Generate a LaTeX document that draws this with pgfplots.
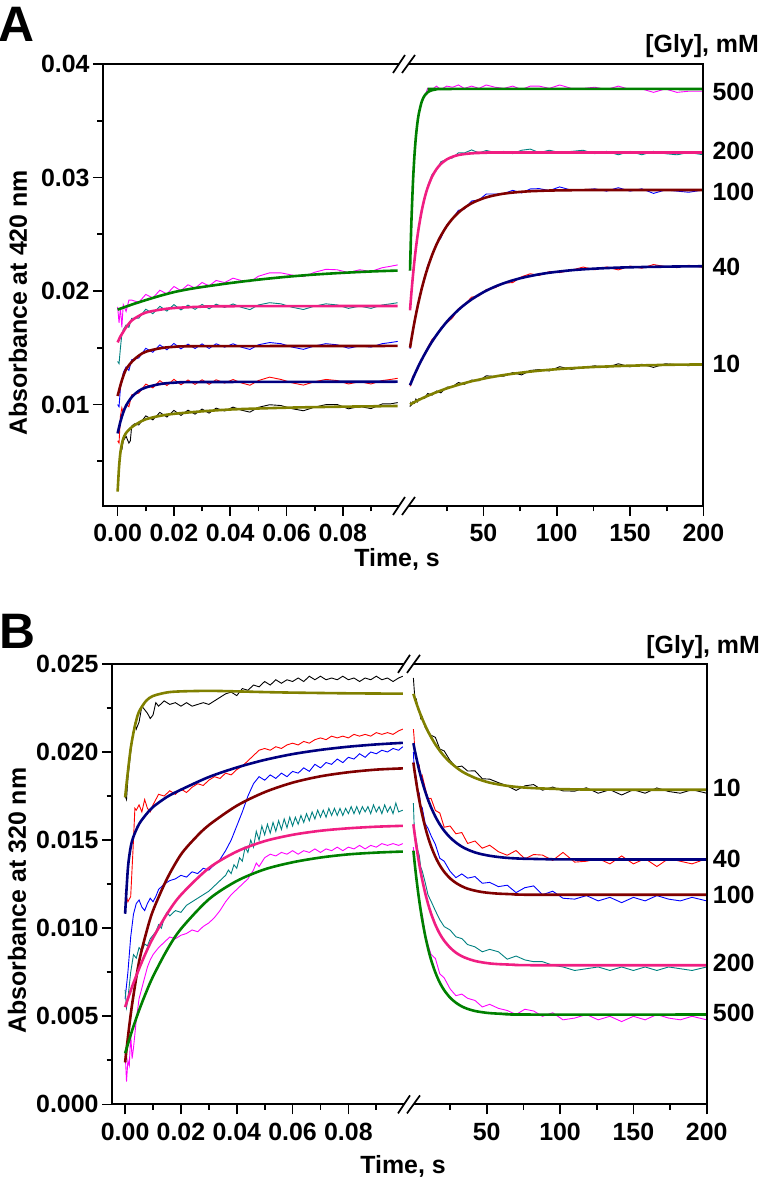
\documentclass[border=0pt]{standalone}
\usepackage{fontspec}
\setmainfont{Liberation Sans}
\usepackage{pgfplots}
\pgfplotsset{compat=1.18}
\definecolor{fgreen}{RGB}{0,128,0}
\definecolor{fpink}{RGB}{240,30,130}
\definecolor{fwine}{RGB}{128,0,0}
\definecolor{fnavy}{RGB}{0,0,128}
\definecolor{folive}{RGB}{128,128,0}
\definecolor{rmag}{RGB}{255,0,255}
\definecolor{rteal}{RGB}{0,128,128}
\definecolor{rblue}{RGB}{0,0,255}
\definecolor{rred}{RGB}{255,0,0}
\newcommand{\fnt}{\fontsize{25}{29}\selectfont\bfseries}
\pgfplotsset{
 base/.style={
  scale only axis, clip mode=individual,
  axis line style={draw=none},
  tick align=outside,
  major tick length=10bp, minor tick length=5.5bp,
  every tick/.append style={black, line width=1.7bp},
  xtick pos=left, ytick pos=left,
  scaled ticks=false,
  every tick label/.append style={font=\fnt},
  every x tick label/.append style={yshift=-5bp},
  /pgf/number format/assume math mode=true,
 },
 raw/.style={line width=0.9bp, no marks},
 fit/.style={line width=2.6bp, no marks, smooth},
}
\newcommand{\brk}[2]{%
 \fill[white] (#1bp-11bp,#2bp-9bp) -- (#1bp+1bp,#2bp+9bp) -- (#1bp+11bp,#2bp+9bp) -- (#1bp-2bp,#2bp-9bp) -- cycle;
 \draw[line width=1.7bp] (#1bp-11bp,#2bp-9bp) -- (#1bp+1bp,#2bp+9bp);
 \draw[line width=1.7bp] (#1bp-2bp,#2bp-9bp) -- (#1bp+11bp,#2bp+9bp);}
\begin{document}
\begin{tikzpicture}
\useasboundingbox (0bp,0bp) rectangle (760bp,1178bp);
% ================= PANEL A =================
\begin{axis}[base, name=AL, at={(103bp,672bp)}, anchor=south west,
 width=296.1bp, height=442bp,
 xmin=-0.0052, xmax=0.1, ymin=0.00106, ymax=0.04,
 xtick={0,0.02,0.04,0.06,0.08}, minor xtick={0.01,0.03,0.05,0.07,0.09},
 ytick={0.01,0.02,0.03,0.04}, minor ytick={0.005,0.015,0.025,0.035},
 xticklabel style={/pgf/number format/.cd,fixed,fixed zerofill,precision=2},
 yticklabel style={/pgf/number format/.cd,fixed,fixed zerofill,precision=2},
]
\addplot[raw, rmag] coordinates {(0,0.0186)(0.0005,0.0172)(0.001,0.0185)(0.0015,0.0168)(0.002,0.0188)(0.003,0.0182)(0.004,0.0192)(0.005,0.0192)(0.0075,0.0190)(0.010,0.0197)(0.0125,0.01938)(0.015,0.02007)(0.0175,0.01974)(0.020,0.0204)(0.0225,0.02003)(0.025,0.02055)(0.0275,0.02025)(0.030,0.02075)(0.0325,0.02045)(0.035,0.02093)(0.038,0.02074)(0.041,0.02113)(0.044,0.02092)(0.047,0.02081)(0.050,0.0213)(0.054,0.0216)(0.058,0.0216)(0.062,0.0214)(0.066,0.02127)(0.070,0.02165)(0.074,0.02191)(0.078,0.02187)(0.082,0.02162)(0.086,0.02187)(0.090,0.02172)(0.094,0.02205)(0.097,0.02218)(0.0995,0.0223)};
\addplot[raw, rteal] coordinates {(0,0.0138)(0.0005,0.0136)(0.001,0.0150)(0.0015,0.0162)(0.002,0.0166)(0.003,0.0170)(0.004,0.0168)(0.005,0.0176)(0.0075,0.0176)(0.010,0.0184)(0.0125,0.0180)(0.015,0.01865)(0.0175,0.01823)(0.020,0.0188)(0.0225,0.01833)(0.025,0.01876)(0.0275,0.01838)(0.030,0.01882)(0.0325,0.01843)(0.035,0.01884)(0.038,0.01855)(0.041,0.01886)(0.044,0.01856)(0.047,0.01836)(0.050,0.01877)(0.054,0.01897)(0.058,0.01887)(0.062,0.01857)(0.066,0.01837)(0.070,0.01867)(0.074,0.01887)(0.078,0.01877)(0.082,0.01847)(0.086,0.01867)(0.090,0.01847)(0.094,0.01877)(0.097,0.01887)(0.0995,0.01897)};
\addplot[raw, rblue] coordinates {(0,0.0100)(0.0005,0.0098)(0.001,0.0115)(0.002,0.0128)(0.003,0.0133)(0.004,0.0130)(0.005,0.01395)(0.0075,0.0141)(0.010,0.01495)(0.0125,0.0146)(0.015,0.01525)(0.0175,0.01482)(0.020,0.01538)(0.0225,0.0149)(0.025,0.01532)(0.0275,0.01493)(0.030,0.01534)(0.0325,0.01494)(0.035,0.01535)(0.038,0.01505)(0.041,0.01535)(0.044,0.01505)(0.047,0.01485)(0.050,0.01526)(0.054,0.01546)(0.058,0.01536)(0.062,0.01506)(0.066,0.01486)(0.070,0.01516)(0.074,0.01536)(0.078,0.01526)(0.082,0.01496)(0.086,0.01516)(0.090,0.01506)(0.094,0.01536)(0.097,0.01546)(0.0995,0.01556)};
\addplot[raw, rred] coordinates {(0,0.0068)(0.0005,0.0066)(0.001,0.0090)(0.0015,0.0097)(0.002,0.0092)(0.003,0.0100)(0.004,0.0098)(0.005,0.01085)(0.0075,0.0110)(0.010,0.0118)(0.0125,0.01147)(0.015,0.0121)(0.0175,0.01167)(0.020,0.01222)(0.0225,0.01174)(0.025,0.01216)(0.0275,0.01177)(0.030,0.01218)(0.0325,0.01178)(0.035,0.01218)(0.038,0.01189)(0.041,0.0122)(0.044,0.0119)(0.047,0.0117)(0.050,0.01211)(0.054,0.01241)(0.058,0.01221)(0.062,0.01191)(0.066,0.01171)(0.070,0.01201)(0.074,0.01221)(0.078,0.01211)(0.082,0.01181)(0.086,0.01201)(0.090,0.01181)(0.094,0.01211)(0.097,0.01221)(0.0995,0.01231)};
\addplot[raw, black] coordinates {(0.0015,0.0060)(0.002,0.0068)(0.003,0.0072)(0.004,0.0066)(0.0045,0.0068)(0.005,0.0081)(0.006,0.0083)(0.0075,0.0082)(0.010,0.0090)(0.0125,0.00865)(0.015,0.0093)(0.0175,0.0089)(0.020,0.00948)(0.0225,0.00904)(0.025,0.0095)(0.0275,0.00915)(0.030,0.0096)(0.0325,0.00924)(0.035,0.00968)(0.038,0.00943)(0.041,0.00977)(0.044,0.0095)(0.047,0.00933)(0.050,0.00975)(0.054,0.00998)(0.058,0.00991)(0.062,0.00963)(0.066,0.00945)(0.070,0.00977)(0.074,0.00999)(0.078,0.0100)(0.082,0.00962)(0.086,0.00983)(0.090,0.00964)(0.094,0.01005)(0.097,0.01006)(0.0995,0.01017)};
\addplot[fit, fgreen] coordinates {(0,0.01836)(0.005,0.0188)(0.01,0.0192)(0.015,0.01957)(0.02,0.0199)(0.025,0.02015)(0.03,0.02035)(0.04,0.0207)(0.05,0.0210)(0.06,0.02125)(0.07,0.02145)(0.08,0.0216)(0.09,0.02172)(0.0995,0.0218)};
\addplot[fit, fpink] coordinates {(0,0.01547)(0.001,0.0160)(0.002,0.0164)(0.003,0.0168)(0.005,0.0174)(0.0075,0.0178)(0.01,0.0181)(0.015,0.01835)(0.02,0.0185)(0.03,0.01862)(0.04,0.01866)(0.0995,0.01868)};
\addplot[fit, fwine] coordinates {(0,0.01075)(0.001,0.0117)(0.002,0.0125)(0.003,0.0131)(0.005,0.01375)(0.0075,0.0143)(0.01,0.01465)(0.015,0.01495)(0.02,0.01508)(0.03,0.01514)(0.0995,0.01516)};
\addplot[fit, fnavy] coordinates {(0,0.00745)(0.001,0.0085)(0.002,0.0093)(0.003,0.0099)(0.005,0.01065)(0.0075,0.0112)(0.01,0.0115)(0.015,0.0118)(0.02,0.01192)(0.03,0.01198)(0.0995,0.01201)};
\addplot[fit, folive] coordinates {(0,0.00233)(0.0005,0.0045)(0.001,0.0058)(0.0015,0.0065)(0.002,0.0070)(0.003,0.0075)(0.005,0.0080)(0.0075,0.0084)(0.01,0.0087)(0.015,0.0090)(0.02,0.00918)(0.03,0.0094)(0.04,0.00956)(0.05,0.00965)(0.06,0.00972)(0.07,0.00977)(0.08,0.00981)(0.09,0.00984)(0.0995,0.00987)};
\end{axis}
\begin{axis}[base, name=AR, at={(399.1bp,672bp)}, anchor=south west,
 width=304.3bp, height=442bp,
 xmin=-7.45, xmax=200, ymin=0.00106, ymax=0.04,
 xtick={50,100,150,200}, minor xtick={25,75,125,175},
 ytick=\empty,
]
\addplot[raw, rmag] coordinates {(0,0.0218)(0.5,0.02436)(1,0.02624)(2,0.0297)(3,0.0318)(4,0.0338)(5,0.03468)(6,0.03573)(8,0.03669)(10,0.03713)(12,0.03786)(15,0.03774)(18,0.03805)(21,0.03775)(25,0.03805)(29,0.03795)(33,0.03815)(37,0.03785)(42,0.03805)(47,0.03785)(52,0.03815)(58,0.03795)(64,0.03785)(70,0.03805)(76,0.03775)(82,0.03805)(88,0.03805)(95,0.03785)(102,0.03815)(110,0.03785)(118,0.03785)(126,0.03795)(134,0.03775)(142,0.03805)(150,0.03775)(158,0.0378)(166,0.0375)(174,0.0378)(182,0.0375)(190,0.0376)(200,0.0376)};
\addplot[raw, rteal] coordinates {(0,0.0184)(0.5,0.01904)(1,0.01993)(2,0.02157)(3,0.02255)(4,0.02387)(5,0.02456)(6,0.02573)(8,0.02699)(10,0.02822)(12,0.0292)(15,0.03027)(18,0.03063)(21,0.03139)(25,0.03159)(29,0.03173)(33,0.03218)(37,0.03216)(42,0.03243)(47,0.03216)(52,0.03238)(58,0.0322)(64,0.0323)(70,0.0321)(76,0.0324)(82,0.0325)(88,0.0322)(95,0.0324)(102,0.0322)(110,0.0323)(118,0.0324)(126,0.0321)(134,0.0323)(142,0.0320)(150,0.0323)(158,0.0320)(166,0.0323)(174,0.0321)(182,0.0320)(190,0.0322)(200,0.0320)};
\addplot[raw, rblue] coordinates {(0,0.0149)(0.5,0.0155)(1,0.01569)(2,0.01664)(3,0.01715)(4,0.01811)(5,0.01844)(6,0.01923)(8,0.02022)(10,0.02108)(12,0.02224)(15,0.02305)(18,0.02418)(21,0.02466)(25,0.02581)(29,0.02638)(33,0.02711)(37,0.02722)(42,0.02793)(47,0.02802)(52,0.02855)(58,0.02854)(64,0.02858)(70,0.02887)(76,0.02864)(82,0.02899)(88,0.02902)(95,0.02885)(102,0.02917)(110,0.02888)(118,0.0289)(126,0.0290)(134,0.0288)(142,0.0291)(150,0.0288)(158,0.0290)(166,0.0286)(174,0.0289)(182,0.0288)(190,0.0287)(200,0.0289)};
\addplot[raw, rred] coordinates {(0,0.0116)(0.5,0.01176)(1,0.01201)(2,0.01252)(3,0.0125)(4,0.0130)(5,0.01298)(6,0.01355)(8,0.01386)(10,0.01444)(12,0.0150)(15,0.01574)(18,0.01601)(21,0.01674)(25,0.01718)(29,0.01764)(33,0.01844)(37,0.01878)(42,0.01946)(47,0.01957)(52,0.02013)(58,0.02029)(64,0.02069)(70,0.02074)(76,0.02125)(82,0.02152)(88,0.02137)(95,0.02171)(102,0.02162)(110,0.02183)(118,0.02211)(126,0.02187)(134,0.02212)(142,0.02186)(150,0.02219)(158,0.02201)(166,0.02233)(174,0.02215)(182,0.02206)(190,0.02227)(200,0.02208)};
\addplot[raw, black] coordinates {(0,0.0098)(0.5,0.01014)(1,0.00997)(2,0.01024)(3,0.01011)(4,0.01048)(5,0.01024)(6,0.01051)(8,0.01053)(10,0.01055)(12,0.01097)(15,0.01083)(18,0.01119)(21,0.01103)(25,0.01152)(29,0.01158)(33,0.01194)(37,0.01178)(42,0.01215)(47,0.01209)(52,0.01253)(58,0.01247)(64,0.0125)(70,0.01281)(76,0.01261)(82,0.0130)(88,0.01308)(95,0.01296)(102,0.01333)(110,0.0131)(118,0.01326)(126,0.01341)(134,0.01325)(142,0.01359)(150,0.01332)(158,0.01355)(166,0.01327)(174,0.01359)(182,0.01351)(190,0.01342)(200,0.01363)};
\addplot[fit, fgreen] coordinates {(0,0.0218)(0.5,0.02426)(1,0.02634)(2,0.02959)(3,0.03191)(4,0.03358)(5,0.03478)(6,0.03563)(8,0.03669)(10,0.03723)(12,0.03751)(15,0.03769)(18,0.03777)(25,0.0378)(200,0.0378)};
\addplot[fit, fpink] coordinates {(0,0.0183)(0.5,0.01914)(1,0.01993)(2,0.02137)(3,0.02265)(4,0.02377)(5,0.02476)(6,0.02563)(8,0.02709)(10,0.02822)(12,0.0291)(15,0.03007)(18,0.03073)(21,0.03119)(25,0.03159)(29,0.03183)(33,0.03198)(37,0.03206)(42,0.03213)(47,0.03216)(52,0.03218)(60,0.0322)(200,0.0322)};
\addplot[fit, fwine] coordinates {(0,0.0150)(1,0.01579)(2,0.01654)(3,0.01725)(4,0.01791)(5,0.01854)(6,0.01913)(8,0.02022)(10,0.02118)(12,0.02204)(15,0.02315)(18,0.02408)(21,0.02486)(25,0.02571)(29,0.02638)(33,0.02691)(37,0.02732)(42,0.02773)(47,0.02802)(52,0.02825)(58,0.02844)(64,0.02858)(70,0.02867)(76,0.02874)(82,0.02879)(88,0.02882)(95,0.02885)(110,0.02888)(130,0.0289)(200,0.0289)};
\addplot[fit, fnavy] coordinates {(0,0.0117)(1,0.01201)(2,0.01232)(4,0.0129)(6,0.01345)(8,0.01396)(10,0.01444)(12,0.0149)(15,0.01554)(18,0.01611)(21,0.01664)(25,0.01728)(29,0.01784)(33,0.01834)(37,0.01878)(42,0.01926)(47,0.01967)(52,0.02003)(58,0.02039)(64,0.02069)(70,0.02094)(76,0.02115)(82,0.02132)(88,0.02147)(95,0.02161)(102,0.02172)(110,0.02183)(118,0.02191)(126,0.02197)(134,0.02202)(142,0.02206)(150,0.02209)(166,0.02213)(182,0.02216)(200,0.02218)};
\addplot[fit, folive] coordinates {(0,0.0100)(5,0.01034)(10,0.01065)(15,0.01093)(21,0.01123)(25,0.01142)(29,0.01158)(33,0.01174)(37,0.01188)(42,0.01205)(47,0.01219)(52,0.01233)(58,0.01247)(64,0.0126)(70,0.01271)(76,0.01281)(82,0.0129)(88,0.01298)(95,0.01306)(102,0.01313)(110,0.0132)(118,0.01326)(126,0.01331)(134,0.01335)(142,0.01339)(150,0.01342)(166,0.01347)(182,0.01351)(200,0.01353)};
\node[anchor=west, inner sep=0, xshift=9bp, font=\fnt] at (axis cs:200,0.0375) {500};
\node[anchor=west, inner sep=0, xshift=9bp, font=\fnt] at (axis cs:200,0.0323) {200};
\node[anchor=west, inner sep=0, xshift=9bp, font=\fnt] at (axis cs:200,0.0287) {100};
\node[anchor=west, inner sep=0, xshift=9bp, font=\fnt] at (axis cs:200,0.0221) {40};
\node[anchor=west, inner sep=0, xshift=9bp, font=\fnt] at (axis cs:200,0.0136) {10};
\end{axis}
\draw[line width=2bp, line join=miter] (AL.north east) -- (AL.north west) -- (AL.south west) -- (AL.south east);
\draw[line width=2bp, line join=miter] (AR.north west) -- (AR.north east) -- (AR.south east) -- (AR.south west);
\brk{404}{1114}
\brk{404}{672}
\node[anchor=base west, inner sep=0, font=\fontsize{50}{54}\selectfont\bfseries] at (-2bp,1136bp) {A};
\node[anchor=base east, inner sep=0, font=\fnt] at (759bp,1125bp) {[Gly], mM};
\node[anchor=base, inner sep=0, font=\fnt] at (397bp,611bp) {Time, s};
\node[rotate=90, inner sep=0, font=\fnt] at (18bp,875bp) {Absorbance at 420 nm};
% ================= PANEL B =================
\begin{axis}[base, name=BL, at={(112bp,73.6bp)}, anchor=south west,
 width=292.2bp, height=440.5bp,
 xmin=-0.0047, xmax=0.1, ymin=0, ymax=0.025,
 xtick={0,0.02,0.04,0.06,0.08}, minor xtick={0.01,0.03,0.05,0.07,0.09},
 ytick={0,0.005,0.01,0.015,0.02,0.025}, minor ytick={0.0025,0.0075,0.0125,0.0175,0.0225},
 xticklabel style={/pgf/number format/.cd,fixed,fixed zerofill,precision=2},
 yticklabel style={/pgf/number format/.cd,fixed,fixed zerofill,precision=3},
]
\addplot[raw, black] coordinates {(0,0.0175)(0.0005,0.0173)(0.001,0.0185)(0.002,0.0200)(0.003,0.0212)(0.0035,0.0216)(0.004,0.0213)(0.005,0.0217)(0.006,0.0226)(0.007,0.0224)(0.008,0.0222)(0.009,0.0219)(0.010,0.0221)(0.011,0.0228)(0.012,0.0226)(0.014,0.0229)(0.016,0.0227)(0.018,0.0228)(0.020,0.0226)(0.022,0.0228)(0.024,0.0226)(0.026,0.0227)(0.028,0.0228)(0.030,0.0227)(0.032,0.0229)(0.034,0.0231)(0.036,0.0233)(0.038,0.0234)(0.040,0.0232)(0.042,0.0236)(0.044,0.0235)(0.046,0.0238)(0.048,0.0237)(0.050,0.0240)(0.052,0.0238)(0.054,0.0241)(0.056,0.0239)(0.058,0.0241)(0.060,0.0240)(0.062,0.0242)(0.064,0.0240)(0.066,0.0243)(0.068,0.0241)(0.070,0.0243)(0.072,0.0241)(0.074,0.0242)(0.076,0.0241)(0.078,0.0243)(0.080,0.0241)(0.082,0.0242)(0.084,0.0240)(0.086,0.0242)(0.088,0.0241)(0.090,0.0243)(0.092,0.0241)(0.094,0.0242)(0.096,0.0240)(0.098,0.0242)(0.0995,0.0243)};
\addplot[raw, rred] coordinates {(0,0.0120)(0.001,0.0115)(0.002,0.0118)(0.003,0.0150)(0.0035,0.0168)(0.004,0.0167)(0.005,0.0170)(0.006,0.0166)(0.007,0.0173)(0.008,0.0168)(0.009,0.0166)(0.010,0.0170)(0.011,0.0173)(0.012,0.0176)(0.014,0.0175)(0.016,0.0178)(0.018,0.0176)(0.020,0.0179)(0.022,0.0177)(0.024,0.0180)(0.026,0.0182)(0.028,0.0181)(0.030,0.0184)(0.032,0.0186)(0.034,0.0185)(0.036,0.0188)(0.038,0.0187)(0.040,0.0190)(0.042,0.0192)(0.044,0.0195)(0.046,0.0198)(0.048,0.0201)(0.050,0.0202)(0.052,0.0201)(0.054,0.0203)(0.056,0.0202)(0.058,0.0204)(0.060,0.0205)(0.062,0.0204)(0.064,0.0206)(0.066,0.0205)(0.068,0.0207)(0.070,0.0208)(0.072,0.0207)(0.074,0.0209)(0.076,0.0208)(0.078,0.0209)(0.080,0.0208)(0.082,0.0210)(0.084,0.0209)(0.086,0.0210)(0.088,0.0209)(0.090,0.0211)(0.092,0.0210)(0.094,0.0211)(0.096,0.0210)(0.098,0.0212)(0.0995,0.0213)};
\addplot[raw, rblue] coordinates {(0,0.0060)(0.001,0.0075)(0.002,0.0095)(0.003,0.0108)(0.004,0.0114)(0.005,0.0116)(0.006,0.0112)(0.007,0.0110)(0.008,0.0114)(0.009,0.0117)(0.010,0.0115)(0.011,0.0118)(0.012,0.0122)(0.014,0.0125)(0.016,0.0127)(0.018,0.0128)(0.020,0.0130)(0.022,0.0129)(0.024,0.0132)(0.026,0.0131)(0.028,0.0134)(0.030,0.0133)(0.032,0.0136)(0.034,0.0139)(0.036,0.0144)(0.038,0.0150)(0.040,0.0158)(0.042,0.0166)(0.044,0.0175)(0.046,0.0182)(0.048,0.0186)(0.050,0.0184)(0.052,0.0187)(0.054,0.0185)(0.056,0.0188)(0.058,0.0186)(0.060,0.0189)(0.062,0.0188)(0.064,0.0191)(0.066,0.0189)(0.068,0.0193)(0.070,0.0191)(0.072,0.0194)(0.074,0.0193)(0.076,0.0196)(0.078,0.0194)(0.080,0.0197)(0.082,0.0196)(0.084,0.0199)(0.086,0.0197)(0.088,0.0200)(0.090,0.0199)(0.092,0.0201)(0.094,0.0200)(0.096,0.0202)(0.098,0.0201)(0.0995,0.0203)};
\addplot[raw, rteal] coordinates {(0,0.0065)(0.0005,0.0055)(0.001,0.0060)(0.002,0.0075)(0.003,0.0085)(0.004,0.0083)(0.005,0.0089)(0.006,0.0087)(0.007,0.0091)(0.008,0.0090)(0.009,0.0094)(0.010,0.0096)(0.011,0.0098)(0.012,0.0102)(0.013,0.0100)(0.014,0.0106)(0.015,0.0109)(0.016,0.0107)(0.018,0.0110)(0.020,0.0109)(0.022,0.0113)(0.024,0.0115)(0.026,0.0117)(0.028,0.0119)(0.030,0.0121)(0.032,0.0124)(0.034,0.0127)(0.036,0.0130)(0.037,0.0133)(0.038,0.0131)(0.039,0.0136)(0.040,0.0134)(0.041,0.0140)(0.042,0.0138)(0.043,0.0146)(0.044,0.0143)(0.045,0.0150)(0.046,0.0146)(0.047,0.0155)(0.048,0.0150)(0.049,0.0158)(0.050,0.0153)(0.051,0.0159)(0.052,0.0154)(0.053,0.0160)(0.054,0.0155)(0.055,0.0161)(0.056,0.0156)(0.057,0.0162)(0.058,0.0157)(0.059,0.0163)(0.060,0.0158)(0.061,0.0163)(0.062,0.0159)(0.063,0.0164)(0.064,0.0160)(0.065,0.0165)(0.066,0.0161)(0.067,0.0166)(0.068,0.0162)(0.069,0.0167)(0.070,0.0163)(0.071,0.0167)(0.072,0.0163)(0.073,0.0168)(0.074,0.0164)(0.075,0.0168)(0.076,0.0164)(0.077,0.0168)(0.078,0.0164)(0.079,0.0168)(0.080,0.0165)(0.081,0.0169)(0.082,0.0165)(0.083,0.0169)(0.084,0.0165)(0.085,0.0169)(0.086,0.0166)(0.087,0.0169)(0.088,0.0165)(0.089,0.0170)(0.090,0.0166)(0.091,0.0169)(0.092,0.0165)(0.093,0.0170)(0.094,0.0166)(0.095,0.0169)(0.096,0.0165)(0.097,0.0171)(0.098,0.0166)(0.0995,0.0167)};
\addplot[raw, rmag] coordinates {(0,0.0030)(0.0005,0.0013)(0.001,0.0025)(0.0015,0.0022)(0.002,0.0040)(0.0025,0.0026)(0.003,0.0032)(0.004,0.0048)(0.005,0.0060)(0.006,0.0066)(0.007,0.0072)(0.008,0.0078)(0.009,0.0082)(0.010,0.0085)(0.012,0.0089)(0.014,0.0092)(0.016,0.0095)(0.018,0.0094)(0.020,0.0096)(0.022,0.0097)(0.024,0.0099)(0.026,0.0098)(0.028,0.0101)(0.030,0.0103)(0.032,0.0106)(0.034,0.0110)(0.036,0.0115)(0.038,0.0119)(0.040,0.0122)(0.042,0.0125)(0.044,0.0128)(0.046,0.0133)(0.047,0.0137)(0.048,0.0135)(0.050,0.0140)(0.052,0.0142)(0.054,0.0141)(0.056,0.0143)(0.058,0.0142)(0.060,0.0144)(0.062,0.0142)(0.064,0.0144)(0.066,0.0143)(0.068,0.0145)(0.070,0.0143)(0.072,0.0145)(0.074,0.0144)(0.076,0.0146)(0.078,0.0144)(0.080,0.0146)(0.082,0.0145)(0.084,0.0147)(0.086,0.0145)(0.088,0.0147)(0.090,0.0146)(0.092,0.0148)(0.094,0.0147)(0.096,0.0148)(0.098,0.0147)(0.0995,0.0148)};
\addplot[fit, folive] coordinates {(0,0.01742)(0.001,0.0189)(0.002,0.0202)(0.003,0.0211)(0.004,0.0218)(0.005,0.0223)(0.0075,0.0229)(0.01,0.02318)(0.015,0.02338)(0.02,0.02344)(0.03,0.02347)(0.04,0.02344)(0.05,0.0234)(0.06,0.02337)(0.08,0.02333)(0.0995,0.02331)};
\addplot[fit, fnavy] coordinates {(0,0.01082)(0.001,0.0134)(0.002,0.01461)(0.003,0.0152)(0.005,0.01591)(0.0075,0.01645)(0.01,0.01688)(0.015,0.01745)(0.02,0.01786)(0.03,0.01858)(0.04,0.01912)(0.05,0.01955)(0.06,0.01988)(0.07,0.02012)(0.08,0.0203)(0.09,0.02043)(0.0995,0.02052)};
\addplot[fit, fwine] coordinates {(0,0.00238)(0.001,0.0038)(0.002,0.0051)(0.003,0.0062)(0.005,0.0081)(0.0075,0.0097)(0.01,0.0110)(0.015,0.0128)(0.02,0.01418)(0.025,0.0151)(0.03,0.01585)(0.04,0.01695)(0.05,0.01772)(0.06,0.01826)(0.07,0.01862)(0.08,0.01885)(0.09,0.019)(0.0995,0.01907)};
\addplot[fit, fpink] coordinates {(0,0.00552)(0.0025,0.00668)(0.005,0.0077)(0.0075,0.00863)(0.01,0.00945)(0.015,0.01081)(0.02,0.01189)(0.03,0.01341)(0.04,0.01435)(0.05,0.01494)(0.06,0.0153)(0.07,0.01553)(0.08,0.01567)(0.09,0.01576)(0.0995,0.01581)};
\addplot[fit, fgreen] coordinates {(0,0.0029)(0.0025,0.00419)(0.005,0.00534)(0.0075,0.00635)(0.01,0.00726)(0.015,0.00876)(0.02,0.00996)(0.03,0.01164)(0.04,0.01268)(0.05,0.01334)(0.06,0.01374)(0.07,0.01401)(0.08,0.01419)(0.09,0.01429)(0.0995,0.01435)};
\end{axis}
\begin{axis}[base, name=BR, at={(404.2bp,73.6bp)}, anchor=south west,
 width=302.5bp, height=440.5bp,
 xmin=-6.27, xmax=200, ymin=0, ymax=0.025,
 xtick={50,100,150,200}, minor xtick={25,75,125,175},
 ytick=\empty,
]
\addplot[raw, black] coordinates {(0,0.0242)(0.5,0.0236)(1,0.0231)(2,0.0230)(3,0.02244)(4,0.02241)(5,0.0219)(6,0.0220)(8,0.0214)(10,0.02116)(12,0.02095)(15,0.02083)(18,0.02017)(21,0.02006)(25,0.01952)(29,0.01914)(33,0.0192)(37,0.01892)(42,0.01893)(47,0.01848)(52,0.01846)(58,0.01826)(64,0.01808)(70,0.01782)(76,0.01808)(82,0.01815)(88,0.01783)(95,0.01801)(102,0.01779)(110,0.01778)(118,0.01797)(126,0.01766)(134,0.01786)(142,0.01756)(150,0.01786)(158,0.01766)(166,0.01796)(174,0.01776)(182,0.01766)(190,0.01786)(200,0.01766)};
\addplot[raw, rred] coordinates {(0,0.0213)(0.5,0.0208)(1,0.01992)(2,0.01983)(3,0.01915)(4,0.01925)(5,0.01848)(6,0.01867)(8,0.01797)(10,0.01734)(12,0.01737)(15,0.01668)(18,0.01654)(21,0.01573)(25,0.0158)(29,0.01536)(33,0.01543)(37,0.01481)(42,0.01495)(47,0.01454)(52,0.01471)(58,0.01434)(64,0.01414)(70,0.01441)(76,0.01394)(82,0.01418)(88,0.01415)(95,0.01385)(102,0.0143)(110,0.01375)(118,0.0138)(126,0.01395)(134,0.01365)(142,0.0141)(150,0.01365)(158,0.01395)(166,0.0135)(174,0.01395)(182,0.0138)(190,0.01365)(200,0.01395)};
\addplot[raw, rblue] coordinates {(0,0.0200)(0.5,0.01909)(1,0.0189)(2,0.01855)(3,0.01774)(4,0.01767)(5,0.01694)(6,0.01685)(8,0.01595)(10,0.01566)(12,0.01526)(15,0.01475)(18,0.01397)(21,0.0138)(25,0.01323)(29,0.01287)(33,0.01308)(37,0.01284)(42,0.01293)(47,0.01255)(52,0.0126)(58,0.01236)(64,0.01244)(70,0.01202)(76,0.0123)(82,0.0124)(88,0.0119)(95,0.0121)(102,0.0117)(110,0.01165)(118,0.01185)(126,0.01155)(134,0.01175)(142,0.01145)(150,0.01175)(158,0.01155)(166,0.01185)(174,0.01165)(182,0.01155)(190,0.01175)(200,0.01155)};
\addplot[raw, rteal] coordinates {(0,0.0171)(0.5,0.01587)(1,0.01536)(2,0.01497)(3,0.01443)(4,0.01413)(5,0.01347)(6,0.01325)(8,0.01261)(10,0.01188)(12,0.01154)(15,0.01099)(18,0.01048)(21,0.01009)(25,0.0099)(29,0.00951)(33,0.00941)(37,0.00907)(42,0.00894)(47,0.00866)(52,0.0088)(58,0.00866)(64,0.00824)(70,0.00842)(76,0.0082)(82,0.0081)(88,0.0081)(95,0.0079)(102,0.0078)(110,0.0076)(118,0.0077)(126,0.0078)(134,0.0076)(142,0.0078)(150,0.0076)(158,0.0078)(166,0.0076)(174,0.0078)(182,0.0077)(190,0.0076)(200,0.0078)};
\addplot[raw, rmag] coordinates {(0,0.0146)(0.5,0.01389)(1,0.01359)(2,0.01305)(3,0.01208)(4,0.01166)(5,0.011)(6,0.01079)(8,0.00969)(10,0.00905)(12,0.00852)(15,0.00828)(18,0.00741)(21,0.00718)(25,0.00656)(29,0.00617)(33,0.00626)(37,0.00602)(42,0.0059)(47,0.00553)(52,0.00568)(58,0.00545)(64,0.00533)(70,0.0051)(76,0.0054)(82,0.0053)(88,0.0050)(95,0.0052)(102,0.0048)(110,0.0049)(118,0.0051)(126,0.0048)(134,0.0050)(142,0.0047)(150,0.0050)(158,0.0048)(166,0.0051)(174,0.0049)(182,0.0048)(190,0.0050)(200,0.0048)};
\addplot[fit, folive] coordinates {(0,0.0233)(0.5,0.02317)(1,0.02303)(2,0.02278)(3,0.02254)(4,0.02231)(5,0.0221)(6,0.02189)(8,0.02151)(10,0.02116)(12,0.02085)(15,0.02043)(18,0.02007)(21,0.01976)(25,0.01942)(29,0.01914)(33,0.0189)(37,0.01872)(42,0.01853)(47,0.01838)(52,0.01826)(58,0.01816)(64,0.01808)(70,0.01802)(76,0.01798)(82,0.01795)(88,0.01793)(95,0.01791)(102,0.01789)(118,0.01787)(140,0.01786)(200,0.01786)};
\addplot[fit, fnavy] coordinates {(0,0.0205)(0.5,0.02028)(1,0.02007)(2,0.01968)(3,0.0193)(4,0.01895)(5,0.01863)(6,0.01832)(8,0.01777)(10,0.01729)(12,0.01687)(15,0.01633)(18,0.01589)(21,0.01553)(25,0.01515)(29,0.01486)(33,0.01463)(37,0.01446)(42,0.0143)(47,0.01419)(52,0.01411)(58,0.01404)(64,0.01399)(70,0.01396)(76,0.01394)(82,0.01393)(95,0.01391)(120,0.0139)(200,0.0139)};
\addplot[fit, fwine] coordinates {(0,0.0194)(0.5,0.01909)(1,0.0188)(2,0.01825)(3,0.01774)(4,0.01727)(5,0.01684)(6,0.01645)(8,0.01575)(10,0.01516)(12,0.01466)(15,0.01405)(18,0.01357)(21,0.0132)(25,0.01283)(29,0.01257)(33,0.01238)(37,0.01224)(42,0.01213)(47,0.01205)(52,0.012)(58,0.01196)(64,0.01194)(70,0.01192)(80,0.0119)(200,0.0119)};
\addplot[fit, fpink] coordinates {(0,0.0159)(0.5,0.01557)(1,0.01526)(2,0.01467)(3,0.01413)(4,0.01363)(5,0.01317)(6,0.01275)(8,0.01201)(10,0.01138)(12,0.01084)(15,0.01019)(18,0.00968)(21,0.00929)(25,0.0089)(29,0.00861)(33,0.00841)(37,0.00827)(42,0.00814)(47,0.00806)(52,0.008)(58,0.00796)(64,0.00794)(70,0.00792)(80,0.0079)(200,0.0079)};
\addplot[fit, fgreen] coordinates {(0,0.0144)(0.5,0.01399)(1,0.01359)(2,0.01285)(3,0.01218)(4,0.01156)(5,0.011)(6,0.01049)(8,0.00959)(10,0.00885)(12,0.00822)(15,0.00748)(18,0.00691)(21,0.00648)(25,0.00606)(29,0.00577)(33,0.00556)(37,0.00542)(42,0.0053)(47,0.00523)(52,0.00518)(58,0.00515)(64,0.00513)(75,0.0051)(200,0.0051)};
\node[anchor=west, inner sep=0, xshift=6bp, font=\fnt] at (axis cs:200,0.01797) {10};
\node[anchor=west, inner sep=0, xshift=6bp, font=\fnt] at (axis cs:200,0.01392) {40};
\node[anchor=west, inner sep=0, xshift=6bp, font=\fnt] at (axis cs:200,0.01188) {100};
\node[anchor=west, inner sep=0, xshift=6bp, font=\fnt] at (axis cs:200,0.00801) {200};
\node[anchor=west, inner sep=0, xshift=6bp, font=\fnt] at (axis cs:200,0.0052) {500};
\end{axis}
\draw[line width=2bp, line join=miter] (BL.north east) -- (BL.north west) -- (BL.south west) -- (BL.south east);
\draw[line width=2bp, line join=miter] (BR.north west) -- (BR.north east) -- (BR.south east) -- (BR.south west);
\brk{409}{514.1}
\brk{409}{73.6}
\node[anchor=base west, inner sep=0, font=\fontsize{50}{54}\selectfont\bfseries] at (-1bp,529bp) {B};
\node[anchor=base east, inner sep=0, font=\fnt] at (760bp,524bp) {[Gly], mM};
\node[anchor=base, inner sep=0, font=\fnt] at (403bp,5bp) {Time, s};
\node[rotate=90, inner sep=0, font=\fnt] at (17bp,277.5bp) {Absorbance at 320 nm};
\end{tikzpicture}
\end{document}
